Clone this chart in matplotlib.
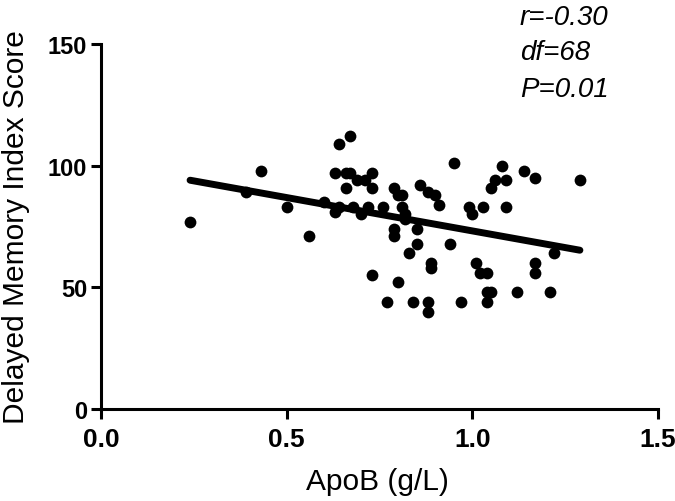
import matplotlib
matplotlib.use("Agg")
import matplotlib.pyplot as plt

# ApoB (g/L) vs delayed memory index score
apob = [0.24, 0.39, 0.43, 0.50, 0.56, 0.60, 0.63, 0.64, 0.67, 0.63,
        0.66, 0.67, 0.66, 0.69, 0.71, 0.73, 0.73, 0.68, 0.70, 0.72,
        0.76, 0.79, 0.80, 0.81, 0.81, 0.82, 0.79, 0.79, 0.85, 0.85,
        0.83, 0.86, 0.88, 0.90, 0.91, 0.95, 0.94, 0.89, 0.89, 0.73,
        0.80, 0.77, 0.84, 0.88, 0.88, 0.97, 0.99, 1.00, 1.03, 1.01,
        1.02, 1.04, 1.04, 1.05, 1.04, 1.05, 1.06, 1.08, 1.09, 1.09,
        1.14, 1.17, 1.12, 1.17, 1.17, 1.21, 1.22, 1.29, 0.82, 0.64]
score = [77, 89, 98, 83, 71, 85, 81, 109, 112, 97,
         97, 97, 91, 94, 94, 97, 91, 83, 80, 83,
         83, 91, 88, 88, 83, 80, 74, 71, 74, 68,
         64, 92, 89, 88, 84, 101, 68, 60, 58, 55,
         52, 44, 44, 44, 40, 44, 83, 80, 83, 60,
         56, 56, 48, 48, 44, 91, 94, 100, 94, 83,
         98, 95, 48, 60, 56, 48, 64, 94, 78, 83]

# fitted line as shown in the figure
fit_slope = -27.4
fit_intercept = 100.6

stats_lines = ["r=-0.30", "df=68", "P=0.01"]

x_ticks = [0.0, 0.5, 1.0, 1.5]
y_ticks = [0, 50, 100, 150]

plt.rcParams['font.family'] = ['Liberation Sans', 'DejaVu Sans']

fig = plt.figure(figsize=(6.75, 5.02), dpi=100)
ax = fig.add_axes([0.1496, 0.1833, 0.825, 0.727])

ax.scatter(apob, score, s=72, color="black", zorder=3, clip_on=False, linewidths=0)
x0, x1 = min(apob), max(apob)
ax.plot([x0, x1], [fit_intercept + fit_slope * x0, fit_intercept + fit_slope * x1],
        color="black", linewidth=5, solid_capstyle="round", zorder=2)

ax.set_xlim(0, 1.5)
ax.set_ylim(0, 150)
ax.set_xticks(x_ticks)
ax.set_xticklabels([f"{t:.1f}" for t in x_ticks], fontsize=19, fontweight="bold")
ax.set_yticks(y_ticks)
ax.set_yticklabels([str(t) for t in y_ticks], fontsize=17, fontweight="bold")

for side in ["top", "right"]:
    ax.spines[side].set_visible(False)
for side in ["left", "bottom"]:
    ax.spines[side].set_linewidth(2.2)

ax.tick_params(width=2.2, length=7)
ax.tick_params(axis="x", pad=6)
ax.tick_params(axis="y", pad=3)

ax.set_xlabel("ApoB (g/L)", fontsize=21.5)
ax.xaxis.set_label_coords(0.497, -0.16)
ax.set_ylabel("Delayed Memory Index Score", fontsize=21.5)
ax.yaxis.set_label_coords(-0.127, 0.5)

ys = [0.950, 0.880, 0.807]
for line, y in zip(stats_lines, ys):
    fig.text(0.770, y, line, fontsize=20, style="italic", ha="left", va="baseline")

fig.savefig("out.png", dpi=100, facecolor="white")
